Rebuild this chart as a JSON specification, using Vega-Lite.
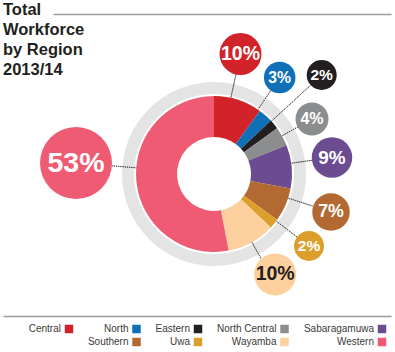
{
  "$schema": "https://vega.github.io/schema/vega-lite/v6.json",
  "width": 388,
  "height": 302,
  "autosize": {"type": "none"},
  "padding": {"left": 3, "top": 14, "right": 4, "bottom": 36},
  "background": "white",
  "title": {
    "text": ["Total", "Workforce", "by Region", "2013/14"],
    "orient": "top", "anchor": "start", "frame": "group", "offset": -64.5,
    "font": "Liberation Sans", "fontSize": 16.5, "fontWeight": "bold", "color": "#231f20", "lineHeight": 20
  },
  "data": {"values": [
    {"region": "Central", "share": 0.10},
    {"region": "North", "share": 0.03},
    {"region": "Eastern", "share": 0.02},
    {"region": "North Central", "share": 0.04},
    {"region": "Sabaragamuwa", "share": 0.09},
    {"region": "Southern", "share": 0.07},
    {"region": "Uwa", "share": 0.02},
    {"region": "Wayamba", "share": 0.10},
    {"region": "Western", "share": 0.53}
  ]},
  "transform": [
    {"stack": "share", "groupby": [], "as": ["s0", "s1"]},
    {"calculate": "(datum.s0 + datum.s1) / 2", "as": "mid"}
  ],
  "layer": [
    {
      "transform": [{"aggregate": [{"op": "sum", "field": "share", "as": "total"}]}],
      "mark": {"type": "arc", "theta": 0, "theta2": 6.2832, "radius": 92, "radius2": 80, "fill": "#e4e4e4"},
      "encoding": {
        "x": {"datum": 211, "type": "quantitative", "scale": {"domain": [0, 388], "range": [0, 388]},
              "axis": {"orient": "bottom", "domain": true, "domainColor": "#9d9d9d", "domainWidth": 1.5, "ticks": false, "labels": false, "grid": false, "title": null}},
        "y": {"datum": 160, "type": "quantitative", "scale": {"domain": [0, 302], "range": [0, 302]}, "axis": null}
      }
    },
    {
      "mark": {"type": "arc", "radius": 78, "radius2": 37},
      "encoding": {
        "theta": {"field": "s0", "type": "quantitative", "stack": null, "scale": {"type": "linear", "domain": [0, 1], "range": [0, 6.2832]}},
        "theta2": {"field": "s1"},
        "color": {"field": "region", "type": "nominal",
          "scale": {"domain": ["Central", "North", "Eastern", "North Central", "Sabaragamuwa", " ", "Southern", "Uwa", "Wayamba", "Western"],
                    "range": ["#d2232a", "#0f70b7", "#231f20", "#8c8d8f", "#6b4c91", "rgba(0,0,0,0)", "#b26a32", "#dd9f2b", "#fdd09e", "#f05b74"]},
          "legend": {"orient": "none", "legendX": 61, "legendY": 310, "columns": 5, "direction": "horizontal",
                     "symbolType": "square", "symbolSize": 72, "symbolStrokeWidth": 0,
                     "labelFont": "Liberation Sans", "labelFontSize": 10, "labelColor": "#3a3a3a",
                     "labelAlign": "right", "labelOffset": -13, "rowPadding": 3, "columnPadding": 13.5, "padding": 0, "title": null}},
        "x": {"datum": 161, "type": "quantitative", "scale": {"domain": [0, 338], "range": [50, 388]},
              "axis": {"orient": "top", "domain": true, "domainColor": "#9d9d9d", "domainWidth": 1.5, "ticks": false, "labels": false, "grid": false, "title": null}},
        "y": {"datum": 160, "type": "quantitative", "scale": {"domain": [0, 302], "range": [0, 302]}, "axis": null}
      }
    },
    {
      "mark": {"type": "arc", "radius2": 78, "filled": false, "stroke": "#333", "strokeWidth": 0.9, "strokeDash": [1, 1.2]},
      "encoding": {
        "theta": {"field": "mid", "type": "quantitative", "stack": null,
                  "scale": {"type": "linear", "domain": [0.05, 0.115, 0.14, 0.17, 0.235, 0.315, 0.36, 0.41, 0.735], "range": [0.2173, 0.5978, 0.8273, 1.0594, 1.4319, 1.8849, 2.2193, 2.5656, 4.792]}},
        "theta2": {"field": "mid"},
        "radius": {"field": "mid", "type": "quantitative", "stack": null,
                   "scale": {"type": "linear", "zero": false, "domain": [0.05, 0.115, 0.14, 0.17, 0.235, 0.315, 0.36, 0.41, 0.735], "range": [102, 100.5, 131, 96, 99, 103.5, 104, 103, 102.5]}},
        "x": {"datum": 161, "type": "quantitative", "scale": {"domain": [0, 338], "range": [50, 388]}, "axis": null},
        "y": {"datum": 160, "type": "quantitative", "scale": {"domain": [0, 302], "range": [0, 302]}, "axis": null}
      }
    },
    {
      "mark": {"type": "arc", "theta": 0, "theta2": 6.2832, "radius2": 0},
      "encoding": {
        "x": {"field": "mid", "type": "quantitative", "axis": null,
              "scale": {"type": "linear", "zero": false, "nice": false, "domain": [0.05, 0.115, 0.14, 0.17, 0.235, 0.315, 0.36, 0.41, 0.735], "range": [237.5, 276.7, 318.7, 309, 329, 328, 306, 278.5, 73]}},
        "y": {"field": "mid", "type": "quantitative", "axis": null,
              "scale": {"type": "linear", "zero": false, "nice": false, "domain": [0.05, 0.115, 0.14, 0.17, 0.235, 0.315, 0.36, 0.41, 0.735], "range": [40, 63.5, 61, 105, 143.5, 198, 232, 264, 149]}},
        "radius": {"field": "share", "type": "quantitative", "stack": null, "scale": {"type": "linear", "zero": false, "domain": [0.02, 0.1, 0.53], "range": [15, 21, 36]}},
        "color": {"field": "region", "type": "nominal"}
      }
    },
    {
      "mark": {"type": "text", "font": "Liberation Sans", "fontWeight": "bold", "baseline": "middle", "align": "center"},
      "encoding": {
        "text": {"field": "share", "type": "quantitative", "format": ".0%"},
        "x": {"field": "mid", "type": "quantitative", "axis": null,
              "scale": {"type": "linear", "zero": false, "nice": false, "domain": [0.05, 0.115, 0.14, 0.17, 0.235, 0.315, 0.36, 0.41, 0.735], "range": [237.5, 276.7, 318.7, 309, 329, 328, 306, 278.5, 73]}},
        "y": {"field": "mid", "type": "quantitative", "axis": null,
              "scale": {"type": "linear", "zero": false, "nice": false, "domain": [0.05, 0.115, 0.14, 0.17, 0.235, 0.315, 0.36, 0.41, 0.735], "range": [40, 63.5, 61, 105, 143.5, 198, 232, 264, 149]}},
        "size": {"field": "share", "type": "quantitative", "scale": {"type": "linear", "zero": false, "domain": [0.02, 0.04, 0.1, 0.53], "range": [15.5, 16, 19.5, 28.5]}, "legend": null},
        "color": {"condition": {"test": "datum.region === 'Wayamba'", "value": "#231f20"}, "value": "white"}
      }
    }
  ],
  "resolve": {
    "scale": {"x": "independent", "y": "independent", "theta": "independent", "radius": "independent", "size": "independent"},
    "axis": {"x": "independent", "y": "independent"}
  },
  "config": {"view": {"stroke": null}, "font": "Liberation Sans"}
}
